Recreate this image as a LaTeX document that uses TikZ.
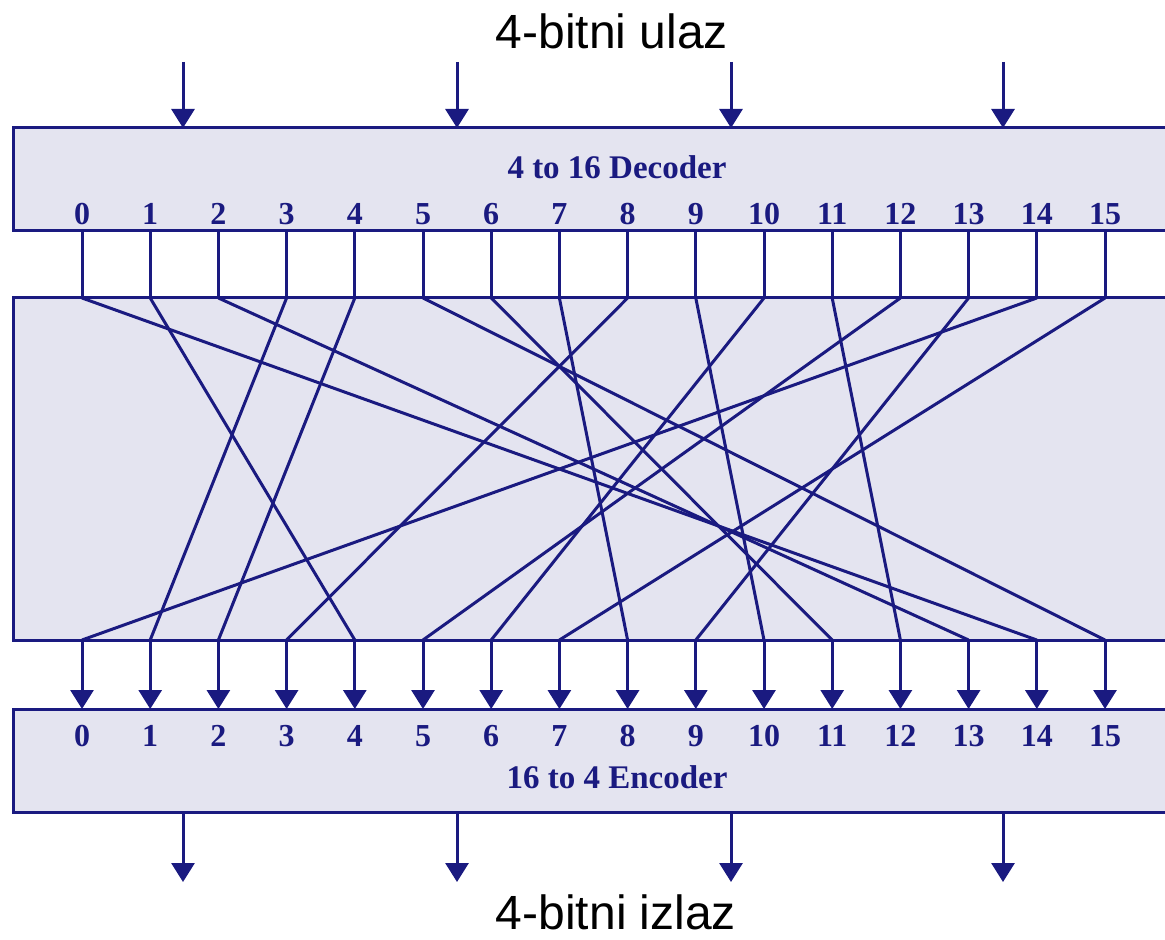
\documentclass[tikz,border=0pt]{standalone}
\usepackage{fontspec}
\setmainfont{Liberation Serif}
\newfontfamily\capfont{Liberation Sans}
\usetikzlibrary{arrows.meta}

\definecolor{navyline}{RGB}{26,26,128}
\definecolor{panelfill}{RGB}{228,228,240}

\tikzset{
  block/.style={draw=navyline, fill=panelfill, line width=1.5pt},
  link/.style={draw=navyline, line width=1.5pt},
  sig/.style={link, -{Triangle[width=11.5pt,length=9.5pt]}},
  pinlabel/.style={text=navyline, font=\fontsize{16}{16}\selectfont\bfseries, inner sep=0pt},
  boxlabel/.style={text=navyline, font=\fontsize{16.5}{16.5}\selectfont\bfseries, inner sep=0pt},
  caption/.style={font=\capfont\fontsize{24}{24}\selectfont, inner sep=0pt}
}

\begin{document}
\begin{tikzpicture}[x=0.5pt, y=-0.5pt]
  \useasboundingbox (0,0) rectangle (1165,940);

  % decoder, substitution field, encoder
  \draw[block] (13,128) rectangle (1185,231);
  \draw[block] (13,298) rectangle (1185,640);
  \draw[block] (13,709) rectangle (1185,812);

  \node[boxlabel] (declabel) at (617,167) {4 to 16 Decoder};
  \node[boxlabel] (enclabel) at (617,777) {16 to 4 Encoder};

  % pin positions
  \foreach \i in {0,...,15} {
    \pgfmathsetmacro{\px}{82+68.2*\i}
    \coordinate (d\i) at (\px,231);
    \coordinate (t\i) at (\px,298);
    \coordinate (b\i) at (\px,640);
    \coordinate (e\i) at (\px,709);
    \node[pinlabel] (dn\i) at (\px,214) {\i};
    \node[pinlabel] (en\i) at (\px,736) {\i};
  }

  % 4-bit input and output lines
  \foreach \k/\x in {0/183,1/457,2/731,3/1003} {
    \coordinate (in\k) at (\x,62);
    \coordinate (ind\k) at (\x,128);
    \coordinate (out\k) at (\x,812);
    \coordinate (outd\k) at (\x,882);
    \draw[sig] (in\k) -- (ind\k);
    \draw[sig] (out\k) -- (outd\k);
  }

  % decoder outputs into the field
  \foreach \i in {0,...,15}
    \draw[link] (d\i) -- (t\i);

  % the substitution
  \foreach \i/\j in {0/14,1/4,2/13,3/1,4/2,5/15,6/11,7/8,
                     8/3,9/10,10/6,11/12,12/5,13/9,14/0,15/7}
    \draw[link, line join=round] (t\i) -- (b\j);

  % field outputs into the encoder
  \foreach \i in {0,...,15}
    \draw[sig] (b\i) -- (e\i);

  \node[caption] (inlabel) at (612,31) {4-bitni ulaz};
  \node[caption] (outlabel) at (616,912) {4-bitni izlaz};
\end{tikzpicture}
\end{document}
